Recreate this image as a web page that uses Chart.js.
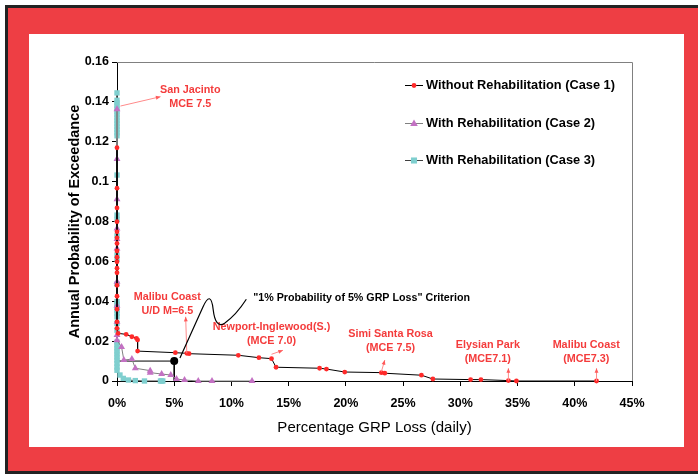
<!DOCTYPE html>
<html>
<head>
<meta charset="utf-8">
<script src="https://cdn.jsdelivr.net/npm/chart.js@4/dist/chart.umd.min.js"></script>
<style>
    html, body { margin: 0; padding: 0; background: #fff; overflow: hidden; }
    #frame {
        position: absolute; left: 5px; top: 5px; width: 720px; height: 463px;
        border: 3px solid #222; border-right: none; background: #ee3e44;
    }
    #sheet {
        position: absolute; left: 29px; top: 34px; width: 655px; height: 413px;
        background: #fff;
    }
    #chart { position: absolute; left: 0; top: 0; }
</style>
</head>
<body>
<div id="frame"></div>
<div id="sheet"></div>
<canvas id="chart" width="698" height="476"></canvas>
<script>
// Annual probability of exceedance vs. daily GRP loss (%)
const xTickLabels = ['0%', '5%', '10%', '15%', '20%', '25%', '30%', '35%', '40%', '45%'];
const yTickLabels = ['0', '0.02', '0.04', '0.06', '0.08', '0.1', '0.12', '0.14', '0.16'];

const seriesNames = [
    'Without Rehabilitation (Case 1)',
    'With Rehabilitation (Case 2)',
    'With Rehabilitation (Case 3)'
];

// Case 1 - without rehabilitation
const case1Loss = [0, 0, 0, 0, 0, 0, 0, 0, 0, 0, 0, 0, 0, 0, 0, 0, 0,
    0.1, 0.8, 1.3, 1.7, 1.8, 1.8, 5.1, 6.1, 6.3, 10.6, 12.4, 13.5, 13.9, 17.7,
    18.3, 19.9, 23.1, 23.4, 26.6, 27.6, 30.9, 31.8, 34.2, 34.9, 41.9];
const case1Prob = [0.117, 0.0967, 0.0868, 0.0799, 0.0748, 0.0718, 0.069, 0.0652,
    0.0621, 0.0598, 0.0566, 0.0543, 0.048, 0.0425, 0.036, 0.0297, 0.0264,
    0.0239, 0.0234, 0.0222, 0.0214, 0.0206, 0.015, 0.0142, 0.0139, 0.0137, 0.0129,
    0.0117, 0.0112, 0.0069, 0.0064, 0.006, 0.0045, 0.0042, 0.0039, 0.0029, 0.001,
    0.0007, 0.0007, 0.0002, 0, 0];

// Case 2 - with rehabilitation
const case2Loss = [0, 0, 0, 0, 0, 0, 0, 0, 0, 0, 0,
    0.4, 0.6, 1.3, 1.6, 2.9, 2.9, 3.9, 4.7, 5.2, 5.9, 7.1, 8.3, 11.8];
const case2Prob = [0.1363, 0.1113, 0.0911, 0.0765, 0.0712, 0.0665, 0.0498, 0.0377,
    0.0297, 0.0231, 0.0205,
    0.017, 0.0105, 0.011, 0.0064, 0.0052, 0.0042, 0.0035, 0.003, 0.001, 0.0005, 0, 0, 0];

// Case 3 - with rehabilitation
const case3Loss = [0, 0, 0, 0, 0, 0, 0, 0, 0, 0, 0, 0, 0, 0, 0, 0, 0, 0, 0, 0,
    0, 0, 0, 0, 0, 0, 0, 0, 0, 0, 0, 0, 0, 0, 0, 0, 0, 0, 0,
    0.26, 0.55, 1.0, 1.6, 2.4, 3.8, 3.9, 4.0];
const case3Prob = [0.1445, 0.1408, 0.1395, 0.138, 0.1365, 0.135, 0.1335, 0.132,
    0.1305, 0.129, 0.1275, 0.126, 0.1245, 0.123, 0.1033, 0.0832, 0.081, 0.0728,
    0.0632, 0.0612, 0.0486, 0.0398, 0.0385, 0.037, 0.0355, 0.034, 0.0322, 0.0289,
    0.0255, 0.0195, 0.018, 0.0165, 0.015, 0.0135, 0.012, 0.0105, 0.0088, 0.007, 0.0054,
    0.003, 0.0013, 0.0005, 0.0002, 0, 0, 0, 0];

// "1% probability of 5% GRP loss" criterion
const criterionLoss = [0, 5, 5];
const criterionProb = [0.01, 0.01, 0];

// scenario labels: text lines, label centre (loss, prob), arrow tail and head
const scenarioNotes = [
    { text: ['San Jacinto', 'MCE 7.5'], at: [6.4, 0.146], arrow: [[0.3, 0.1379], [3.8, 0.1426]] },
    { text: ['Malibu Coast', 'U/D M=6.5'], at: [4.4, 0.0421], arrow: [[6.1, 0.0139], [6.0, 0.0322]] },
    { text: ['Newport-Inglewood(S.)', '(MCE 7.0)'], at: [13.5, 0.0272], arrow: [[13.5, 0.0134], [14.5, 0.0154]] },
    { text: ['Simi Santa Rosa', '(MCE 7.5)'], at: [23.9, 0.0236], arrow: [[23.1, 0.0047], [23.4, 0.0105]] },
    { text: ['Elysian Park', '(MCE7.1)'], at: [32.4, 0.018], arrow: [[34.2, 0.0002], [34.2, 0.0064]] },
    { text: ['Malibu Coast', '(MCE7.3)'], at: [41.0, 0.018], arrow: [[41.9, 0], [41.9, 0.0064]] }
];

const pairs = (xs, ys) => xs.map((x, i) => ({ x: x, y: ys[i] }));

const FONT = "'Liberation Sans', Arial, sans-serif";
const NOTE_RED = '#f43c3c';

function drawMarker(ctx, style, x, y, r, color) {
    ctx.save();
    ctx.fillStyle = color;
    ctx.beginPath();
    if (style === 'triangle') {
        ctx.moveTo(x, y - r);
        ctx.lineTo(x + r * 0.95, y + r * 0.6);
        ctx.lineTo(x - r * 0.95, y + r * 0.6);
        ctx.closePath();
    } else if (style === 'rect') {
        ctx.rect(x - r * 0.8, y - r * 0.8, r * 1.6, r * 1.6);
    } else {
        ctx.arc(x, y, r, 0, Math.PI * 2);
    }
    ctx.fill();
    ctx.restore();
}

const notesPlugin = {
    id: 'notes',
    beforeDatasetsDraw(chart) {
        const { ctx, chartArea: a } = chart;
        ctx.save();
        ctx.strokeStyle = '#808080';
        ctx.lineWidth = 1;
        ctx.beginPath();
        ctx.moveTo(a.left, a.top + 0.5);
        ctx.lineTo(a.right + 0.5, a.top + 0.5);
        ctx.lineTo(a.right + 0.5, a.bottom);
        ctx.stroke();
        ctx.restore();
    },
    afterDatasetsDraw(chart) {
        const { ctx, chartArea: a } = chart;
        const xs = chart.scales.x, ys = chart.scales.y;
        const px = (v) => xs.getPixelForValue(v);
        const py = (v) => ys.getPixelForValue(v);
        ctx.save();

        // arrows and red scenario labels
        scenarioNotes.forEach((n) => {
            const x0 = px(n.arrow[0][0]), y0 = py(n.arrow[0][1]);
            const x1 = px(n.arrow[1][0]), y1 = py(n.arrow[1][1]);
            ctx.strokeStyle = '#ff8a8a';
            ctx.fillStyle = '#ff5a5a';
            ctx.lineWidth = 1;
            ctx.beginPath();
            ctx.moveTo(x0, y0);
            ctx.lineTo(x1, y1);
            ctx.stroke();
            const ang = Math.atan2(y1 - y0, x1 - x0);
            ctx.beginPath();
            ctx.moveTo(x1, y1);
            ctx.lineTo(x1 - 5 * Math.cos(ang - 0.4), y1 - 5 * Math.sin(ang - 0.4));
            ctx.lineTo(x1 - 5 * Math.cos(ang + 0.4), y1 - 5 * Math.sin(ang + 0.4));
            ctx.closePath();
            ctx.fill();

            ctx.fillStyle = NOTE_RED;
            ctx.font = 'bold 10.8px ' + FONT;
            ctx.textAlign = 'center';
            ctx.textBaseline = 'middle';
            n.text.forEach((t, i) => ctx.fillText(t, px(n.at[0]), py(n.at[1]) + i * 14));
        });

        // curly leader to the criterion caption
        ctx.strokeStyle = '#000';
        ctx.lineWidth = 1.2;
        ctx.beginPath();
        ctx.moveTo(px(5.5), py(0.0115));
        ctx.lineTo(px(7.5), py(0.037));
        ctx.quadraticCurveTo(px(8.2), py(0.046), px(8.4), py(0.036));
        ctx.quadraticCurveTo(px(8.6), py(0.026), px(9.4), py(0.029));
        ctx.quadraticCurveTo(px(10.4), py(0.033), px(11.3), py(0.041));
        ctx.stroke();
        ctx.fillStyle = '#000';
        ctx.font = 'bold 10.7px ' + FONT;
        ctx.textAlign = 'left';
        ctx.textBaseline = 'middle';
        ctx.fillText('"1% Probability of 5% GRP Loss" Criterion', px(11.9), py(0.0416));

        // legend
        const lx = a.left + 288;
        const rows = [a.top + 23, a.top + 61, a.top + 98];
        ctx.font = 'bold 12.8px ' + FONT;
        chart.data.datasets.slice(0, 3).forEach((ds, i) => {
            const y = rows[i];
            ctx.strokeStyle = ds.borderColor;
            ctx.lineWidth = 1;
            ctx.beginPath();
            ctx.moveTo(lx, y + 0.5);
            ctx.lineTo(lx + 18, y + 0.5);
            ctx.stroke();
            drawMarker(ctx, ds.pointStyle, lx + 9, y + 0.5, ds.pointRadius, ds.pointBackgroundColor);
            ctx.fillStyle = '#000';
            ctx.fillText(ds.label, lx + 21, y);
        });
        ctx.restore();
    }
};

new Chart(document.getElementById('chart'), {
    type: 'scatter',
    data: {
        datasets: [
            {
                label: seriesNames[0],
                data: pairs(case1Loss, case1Prob),
                showLine: true,
                borderColor: '#000',
                borderWidth: 1,
                pointStyle: 'circle',
                pointRadius: 2.4,
                pointBackgroundColor: '#ff2a2a',
                pointBorderWidth: 0,
                clip: false
            },
            {
                label: seriesNames[1],
                data: pairs(case2Loss, case2Prob),
                showLine: true,
                borderColor: '#808080',
                borderWidth: 1,
                pointStyle: 'triangle',
                pointRadius: 4,
                pointBackgroundColor: '#c371c3',
                pointBorderWidth: 0,
                clip: false
            },
            {
                label: seriesNames[2],
                data: pairs(case3Loss, case3Prob),
                showLine: true,
                borderColor: '#404040',
                borderWidth: 1,
                pointStyle: 'rect',
                pointRadius: 3.8,
                pointBackgroundColor: '#7fcfcf',
                pointBorderWidth: 0,
                clip: false
            },
            {
                label: 'criterion',
                data: pairs(criterionLoss, criterionProb),
                showLine: true,
                borderColor: '#000',
                borderWidth: 1,
                pointRadius: [0, 4, 0],
                pointBackgroundColor: '#000',
                pointBorderWidth: 0,
                clip: false
            }
        ]
    },
    options: {
        responsive: false,
        animation: false,
        devicePixelRatio: 1,
        layout: { padding: { left: 62, right: 66, top: 62, bottom: 35 } },
        plugins: {
            legend: { display: false },
            tooltip: { enabled: false }
        },
        scales: {
            x: {
                type: 'linear',
                min: 0,
                max: 45,
                afterFit: (s) => { s.height = 60; },
                grid: { drawOnChartArea: false, color: '#000', tickLength: 5 },
                border: { color: '#000', width: 1 },
                ticks: {
                    stepSize: 5,
                    padding: 10,
                    color: '#000',
                    maxRotation: 0,
                    font: { family: FONT, size: 12.5, weight: 'bold' },
                    callback: (v, i) => xTickLabels[i]
                },
                title: {
                    display: true,
                    text: 'Percentage GRP Loss (daily)',
                    color: '#000',
                    font: { family: FONT, size: 15 }
                }
            },
            y: {
                type: 'linear',
                min: 0,
                max: 0.16,
                afterFit: (s) => { s.width = 55; },
                grid: { drawOnChartArea: false, color: '#000', tickLength: 5 },
                border: { color: '#000', width: 1 },
                ticks: {
                    stepSize: 0.02,
                    padding: 3,
                    color: '#000',
                    font: { family: FONT, size: 12.5, weight: 'bold' },
                    callback: (v, i) => yTickLabels[i]
                },
                title: {
                    display: true,
                    text: 'Annual Probability of Exceedance',
                    color: '#000',
                    font: { family: FONT, size: 14.5, weight: 'bold' }
                }
            }
        }
    },
    plugins: [notesPlugin]
});
</script>
</body>
</html>
